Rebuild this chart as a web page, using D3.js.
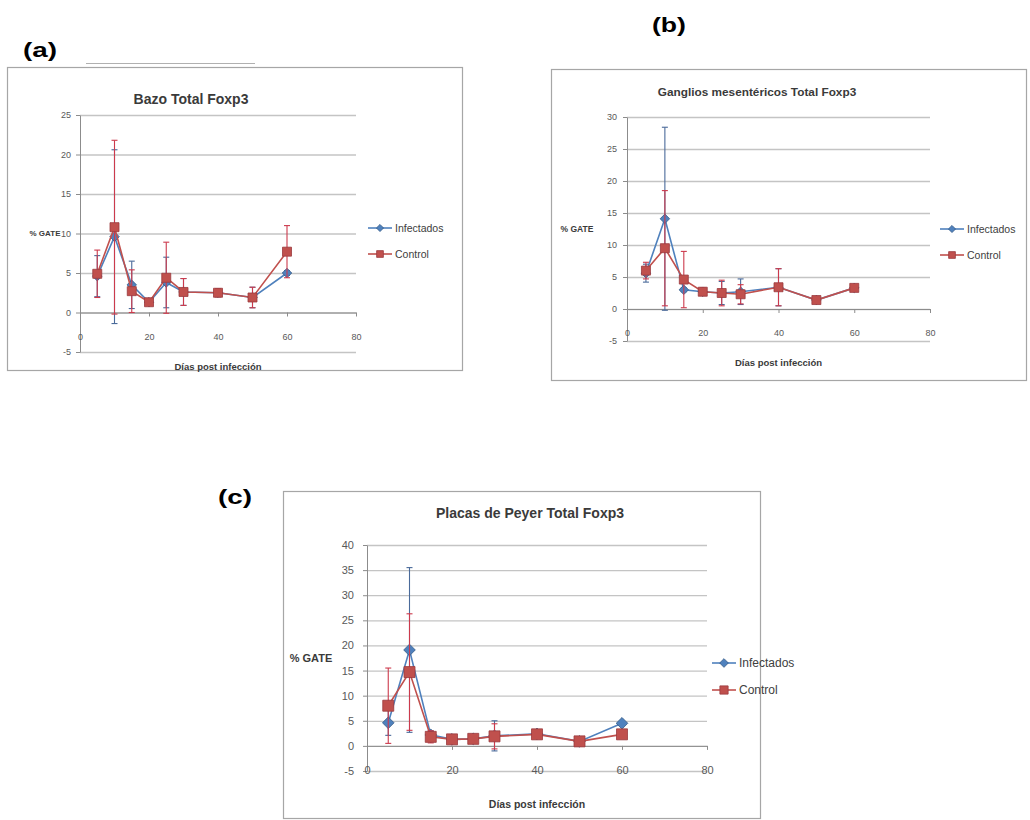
<!DOCTYPE html>
<html>
<head>
<meta charset="utf-8">
<script src="https://cdn.jsdelivr.net/npm/d3@7"></script>
<style>
	body { margin: 0; background: #fff; }
	svg { font-family: "Liberation Sans", Arial, sans-serif; }
</style>
</head>
<body>
<svg width="1030" height="820"></svg>
<script>
// dias post infeccion
const days = [5, 10, 15, 20, 25, 30, 40, 50, 60]
const xTicks = [0, 20, 40, 60, 80]
const seriesNames = ["Infectados", "Control"]

// (a) Bazo
const bazoInf = [4.6, 9.6, 3.5, 1.3, 3.8, 2.6, 2.5, 1.9, 5.0]
const bazoInfErr = [2.6, 11.0, 3.0, 0.3, 3.2, 1.7, 0.5, 1.3, 0.3]
const bazoCtl = [4.9, 10.8, 2.7, 1.3, 4.4, 2.6, 2.5, 1.9, 7.7]
const bazoCtlErr = [3.0, 11.0, 2.7, 0.3, 4.5, 1.7, 0.5, 1.3, 3.3]

// (b) Ganglios mesentericos
const gangInf = [5.6, 14.1, 3.0, 2.7, 2.5, 2.7, 3.4, 1.4, 3.3]
const gangInfErr = [1.4, 14.3, 0.3, 0.5, 1.8, 2.0, 2.9, 0.3, 0.3]
const gangCtl = [6.0, 9.5, 4.6, 2.7, 2.5, 2.3, 3.4, 1.4, 3.3]
const gangCtlErr = [1.3, 9.0, 4.4, 0.6, 2.0, 1.5, 2.9, 0.3, 0.3]

// (c) Placas de Peyer
const peyerInf = [4.6, 19.1, 2.2, 1.3, 1.4, 2.0, 2.4, 0.9, 4.5]
const peyerInfErr = [2.5, 16.4, 0.8, 0.4, 0.5, 3.0, 0.6, 0.3, 0.3]
const peyerCtl = [8.0, 14.7, 1.8, 1.3, 1.4, 1.9, 2.3, 0.9, 2.3]
const peyerCtlErr = [7.5, 11.6, 1.2, 0.4, 0.5, 2.5, 0.6, 0.3, 0.3]

const colors = {
	Infectados: "#4F81BD",
	Control: "#C0504D",
}
const errColors = {
	Infectados: "#4a6a9a",
	Control: "#cc3a4c",
}
const strokeColors = {
	Infectados: "#385d8a",
	Control: "#9b3a3e",
}

var svg = d3.select("svg")

const panels = [
	{
		tag: "(a)", tagX: 23, tagY: 57,
		box: [7, 67, 455, 303],
		title: "Bazo Total Foxp3", titleX: 191, titleY: 104, titleSize: 14,
		x0: 80, x1: 356, yTop: 115, yBot: 352, yDomain: [-5, 25],
		tickSize: 9, labelGap: 5, axisTitleSize: 8, xTitleSize: 9.5,
		gateX: 45, xTitleY: 370,
		legendX: 368, legendY: 228, legendGap: 26, legendSize: 10.5,
		series: { Infectados: [bazoInf, bazoInfErr], Control: [bazoCtl, bazoCtlErr] },
	},
	{
		tag: "(b)", tagX: 652, tagY: 32,
		box: [551, 69, 475, 311],
		title: "Ganglios mesentéricos Total Foxp3", titleX: 757, titleY: 96, titleSize: 11.8,
		x0: 627, x1: 930, yTop: 117, yBot: 341, yDomain: [-5, 30],
		tickSize: 9, labelGap: 6, axisTitleSize: 8.5, xTitleSize: 9.5,
		gateX: 577, xTitleY: 366,
		legendX: 940, legendY: 229, legendGap: 26, legendSize: 10.5,
		series: { Infectados: [gangInf, gangInfErr], Control: [gangCtl, gangCtlErr] },
	},
	{
		tag: "(c)", tagX: 218, tagY: 504,
		box: [283, 491, 477, 327],
		title: "Placas de Peyer Total Foxp3", titleX: 530, titleY: 518, titleSize: 14,
		x0: 367, x1: 707, yTop: 545, yBot: 771, yDomain: [-5, 40],
		tickSize: 11, labelGap: 9, axisTitleSize: 11, xTitleSize: 10.5,
		gateX: 311, xTitleY: 808,
		legendX: 712, legendY: 663, legendGap: 27, legendSize: 12,
		series: { Infectados: [peyerInf, peyerInfErr], Control: [peyerCtl, peyerCtlErr] },
	},
]

function marker(sel, name, scale) {
	if (name === "Control") {
		sel.append("path")
			.attr("d", d3.symbol().type(d3.symbolSquare).size(81 * scale * scale)())
			.attr("fill", colors[name])
			.attr("stroke", strokeColors[name])
			.attr("stroke-width", 0.8)
	} else {
		sel.append("path")
			.attr("d", d3.symbol().type(d3.symbolSquare).size(45 * scale * scale)())
			.attr("transform", "rotate(45)")
			.attr("fill", colors[name])
			.attr("stroke", strokeColors[name])
			.attr("stroke-width", 0.8)
	}
}

function drawPanel(p) {
	const g = svg.append("g")

	g.append("rect")
		.attr("x", p.box[0] + 0.5)
		.attr("y", p.box[1] + 0.5)
		.attr("width", p.box[2])
		.attr("height", p.box[3])
		.attr("fill", "#fff")
		.attr("stroke", "#a6a6a6")
		.attr("stroke-width", 1.2)

	g.append("text")
		.attr("x", p.tagX)
		.attr("y", p.tagY)
		.attr("font-size", 20)
		.attr("font-weight", "bold")
		.attr("fill", "#000")
		.attr("textLength", 34)
		.attr("lengthAdjust", "spacingAndGlyphs")
		.text(p.tag)

	const x = d3.scaleLinear().domain([0, 80]).range([p.x0, p.x1])
	const y = d3.scaleLinear().domain(p.yDomain).range([p.yBot, p.yTop])
	const yTicks = d3.range(p.yDomain[0], p.yDomain[1] + 1, 5)
	const plain = function (d) { return String(d) }

	// gridlines
	const grid = g.append("g")
		.attr("transform", `translate(${p.x0},0)`)
		.call(d3.axisLeft(y).tickValues(yTicks).tickSize(-(p.x1 - p.x0)).tickFormat(""))
	grid.select(".domain").remove()
	grid.selectAll("line").attr("stroke", "#c4c4c4").attr("stroke-width", 1.3)

	// y axis
	const yAxis = g.append("g")
		.attr("transform", `translate(${p.x0},0)`)
		.call(d3.axisLeft(y).tickValues(yTicks).tickFormat(plain).tickSize(4).tickSizeOuter(0).tickPadding(p.labelGap))
	yAxis.select(".domain").attr("stroke", "#8c8c8c")
	yAxis.selectAll("line").attr("stroke", "#8c8c8c")
	yAxis.selectAll("text")
		.attr("font-size", p.tickSize)
		.attr("fill", "#595959")
		.attr("font-family", "Liberation Sans Narrow, Arial, sans-serif")

	// x axis at zero
	const xAxis = g.append("g")
		.attr("transform", `translate(0,${y(0)})`)
		.call(d3.axisBottom(x).tickValues(xTicks).tickFormat(plain).tickSize(4).tickSizeOuter(0).tickPadding(24 - 4 - p.tickSize * 0.36))
	xAxis.select(".domain").attr("stroke", "#8c8c8c")
	xAxis.selectAll("line").attr("stroke", "#8c8c8c")
	xAxis.selectAll("text")
		.attr("font-size", p.tickSize)
		.attr("fill", "#595959")
		.attr("font-family", "Liberation Sans Narrow, Arial, sans-serif")

	// titles
	g.append("text")
		.attr("x", p.titleX)
		.attr("y", p.titleY)
		.attr("text-anchor", "middle")
		.attr("font-size", p.titleSize)
		.attr("font-weight", "bold")
		.attr("fill", "#3a3a3a")
		.text(p.title)

	g.append("text")
		.attr("x", p.gateX)
		.attr("y", (p.yTop + p.yBot) / 2 + p.axisTitleSize * 0.36)
		.attr("text-anchor", "middle")
		.attr("font-size", p.axisTitleSize)
		.attr("font-weight", "bold")
		.attr("fill", "#3a3a3a")
		.text("% GATE")

	g.append("text")
		.attr("x", (p.x0 + p.x1) / 2)
		.attr("y", p.xTitleY)
		.attr("text-anchor", "middle")
		.attr("font-size", p.xTitleSize)
		.attr("font-weight", "bold")
		.attr("fill", "#3a3a3a")
		.text("Días post infección")

	const scale = p.tickSize / 9

	seriesNames.forEach(function (name) {
		const vals = p.series[name][0]
		const errs = p.series[name][1]
		const pts = days.map(function (d, i) {
			return { d: d, v: vals[i], e: errs[i] }
		})

		g.append("path")
			.datum(pts)
			.attr("fill", "none")
			.attr("stroke", colors[name])
			.attr("stroke-width", 1.6)
			.attr("d", d3.line().x(function (q) { return x(q.d) }).y(function (q) { return y(q.v) }))

		const eb = g.selectAll(null)
			.data(pts)
			.enter()
			.append("g")
			.attr("stroke", errColors[name])
			.attr("stroke-width", 1.1)
		eb.append("line")
			.attr("x1", function (q) { return x(q.d) })
			.attr("x2", function (q) { return x(q.d) })
			.attr("y1", function (q) { return y(q.v - q.e) })
			.attr("y2", function (q) { return y(q.v + q.e) })
		eb.append("line")
			.attr("x1", function (q) { return x(q.d) - 3 })
			.attr("x2", function (q) { return x(q.d) + 3 })
			.attr("y1", function (q) { return y(q.v + q.e) })
			.attr("y2", function (q) { return y(q.v + q.e) })
		eb.append("line")
			.attr("x1", function (q) { return x(q.d) - 3 })
			.attr("x2", function (q) { return x(q.d) + 3 })
			.attr("y1", function (q) { return y(q.v - q.e) })
			.attr("y2", function (q) { return y(q.v - q.e) })

		const mk = g.selectAll(null)
			.data(pts)
			.enter()
			.append("g")
			.attr("transform", function (q) {
				return "translate(" + x(q.d) + "," + y(q.v) + ")"
			})
		marker(mk, name, scale)
	})

	// legend
	seriesNames.forEach(function (name, i) {
		const ly = p.legendY + i * p.legendGap
		const lg = g.append("g")
		lg.append("line")
			.attr("x1", p.legendX)
			.attr("x2", p.legendX + 24)
			.attr("y1", ly)
			.attr("y2", ly)
			.attr("stroke", colors[name])
			.attr("stroke-width", 1.6)
		const m = lg.append("g").attr("transform", `translate(${p.legendX + 12},${ly})`)
		marker(m, name, scale * 0.75)
		lg.append("text")
			.attr("x", p.legendX + 27)
			.attr("y", ly + p.legendSize * 0.36)
			.attr("font-size", p.legendSize)
			.attr("fill", "#404040")
			.attr("font-family", "Liberation Sans Narrow, Arial, sans-serif")
			.text(name)
	})
}

panels.forEach(drawPanel)

// loose rule above panel (a)
svg.append("line")
	.attr("x1", 86)
	.attr("x2", 255)
	.attr("y1", 63.5)
	.attr("y2", 63.5)
	.attr("stroke", "#b0b0b0")
</script>
</body>
</html>
